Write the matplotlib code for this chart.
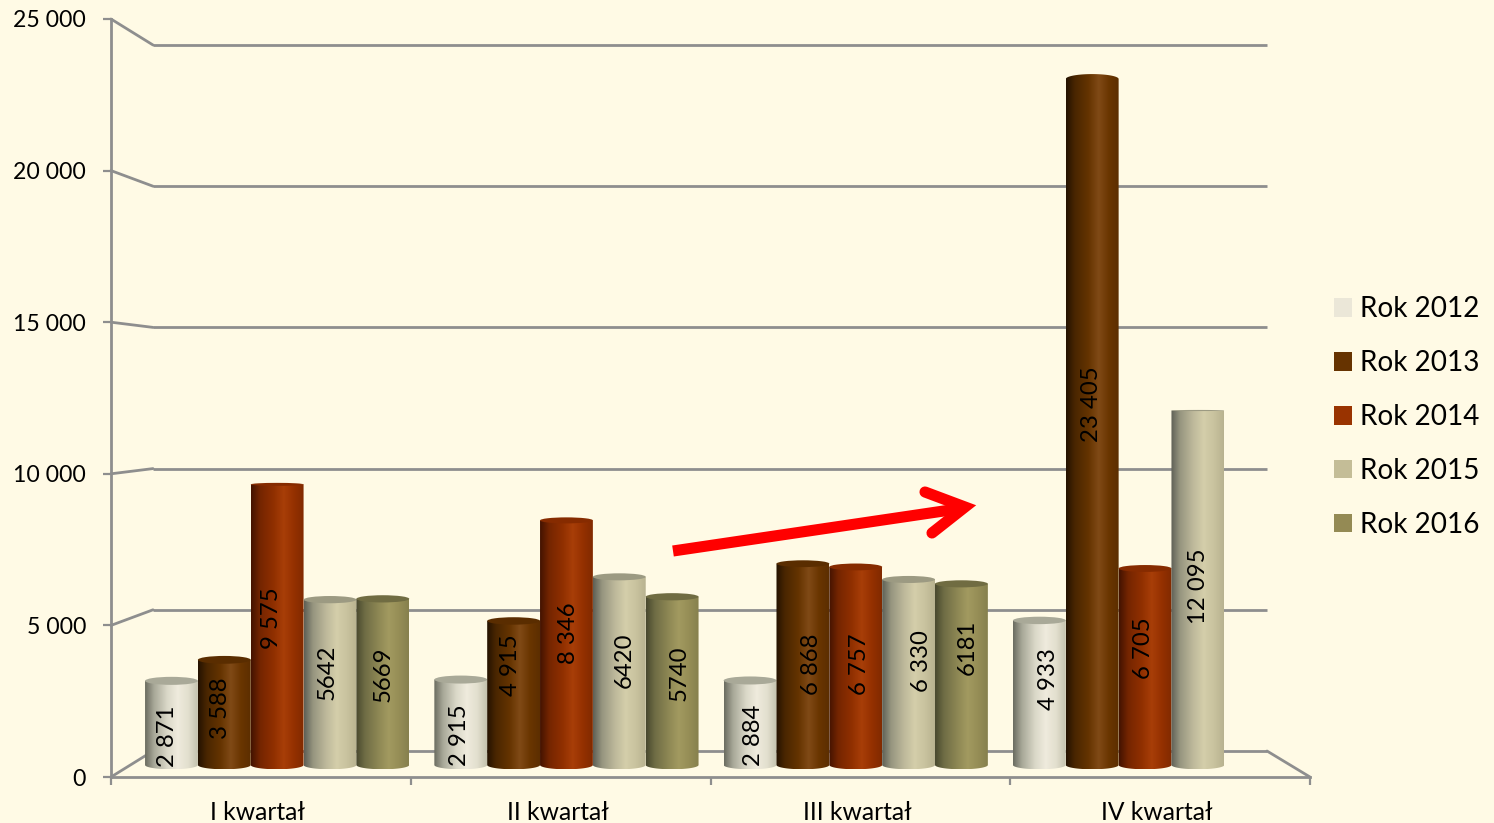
import numpy as np
import matplotlib
matplotlib.use("Agg")
import matplotlib.pyplot as plt
from matplotlib.colors import LinearSegmentedColormap
from matplotlib.lines import Line2D
from matplotlib.patches import Ellipse, Patch, PathPatch, ConnectionPatch
from matplotlib.path import Path

quarters = ["I kwartał", "II kwartał", "III kwartał", "IV kwartał"]
series_names = ["Rok 2012", "Rok 2013", "Rok 2014", "Rok 2015", "Rok 2016"]
rok_2012 = [2871, 2915, 2884, 4933]
rok_2013 = [3588, 4915, 6868, 23405]
rok_2014 = [9575, 8346, 6757, 6705]
rok_2015 = [5642, 6420, 6330, 12095]
rok_2016 = [5669, 5740, 6181, np.nan]
labels_2012 = ["2 871", "2 915", "2 884", "4 933"]
labels_2013 = ["3 588", "4 915", "6 868", "23 405"]
labels_2014 = ["9 575", "8 346", "6 757", "6 705"]
labels_2015 = ["5642", "6420", "6 330", "12 095"]
labels_2016 = ["5669", "5740", "6181", ""]
y_ticks = [0, 5000, 10000, 15000, 20000, 25000]
y_tick_labels = ["0", "5 000", "10 000", "15 000", "20 000", "25 000"]

values = [rok_2012, rok_2013, rok_2014, rok_2015, rok_2016]
texts = [labels_2012, labels_2013, labels_2014, labels_2015, labels_2016]

# label placement relative to each cylinder's centre (pixels)
label_dx = [[-4, -1, 3, 9], [-4, -3, 9, -1], [-6, 2, 4, -2], [-3, 5, 13, 1], [0, 7, 6, 0]]
label_dy = [[-13, -13, -13, 14], [4, 28, 0, 18], [6, 10, 2, 19], [10, 11, 11, 1], [8, 8, 27, 0]]

BG = "#FFFAE5"
GRID = "#8E8E8E"
W, H = 1494, 823
plt.rcParams["font.family"] = ["Lato", "DejaVu Sans"]
FS = 17.2

legend_colors = ["#EBE7D8", "#663300", "#993300", "#C4BD97", "#948A54"]
ramps = [
    ["#6A6B60", "#A8A898", "#DAD8C8", "#EFEBDD", "#E2DFCE", "#C4C2AE"],
    ["#241200", "#4A2600", "#643300", "#804A16", "#693500", "#5C2E00"],
    ["#431300", "#742500", "#8F2F00", "#A83E08", "#943000", "#812A00"],
    ["#5E5F56", "#96957F", "#BEB99B", "#D4CEAA", "#C8C29E", "#B8B290"],
    ["#48482E", "#6F6D45", "#8D8754", "#A29A60", "#958D56", "#86804D"],
]
top_colors = ["#A9A998", "#5A2D00", "#862B00", "#9C9A82", "#706C42"]
stops = [0, 0.17, 0.42, 0.62, 0.82, 1]


def box(left, top, right, bottom):
    return [left / W, 1 - bottom / H, (right - left) / W, (bottom - top) / H]


fig = plt.figure(figsize=(W / 100, H / 100), dpi=100, facecolor=BG)

# back wall
ax_back = fig.add_axes(box(153, 45, 1267, 751), facecolor="none", zorder=1)
ax_back.set_xlim(0, 1)
ax_back.set_ylim(0, 25000)
ax_back.set_yticks(y_ticks)
ax_back.tick_params(left=False, bottom=False, labelleft=False, labelbottom=False)
ax_back.grid(axis="y", color=GRID, lw=2.0)
ax_back.set_axisbelow(True)
for gl in ax_back.get_ygridlines():
    gl.set_clip_on(False)
    gl.set_solid_capstyle("butt")
for s in ax_back.spines.values():
    s.set_visible(False)

# front axis
ax = fig.add_axes(box(111, 19, 1310, 777), facecolor="none", zorder=2)
ax.set_xlim(0, 4)
ax.set_ylim(0, 25000)
ax.spines["top"].set_visible(False)
ax.spines["right"].set_visible(False)
for side in ("left", "bottom"):
    ax.spines[side].set_color(GRID)
    ax.spines[side].set_linewidth(2.0)
ax.set_yticks(y_ticks, y_tick_labels, fontsize=16.6, color="black")
ax.set_xticks(range(5), [""] * 5)
ax.set_xticks(np.arange(4) + 0.49, quarters, minor=True, fontsize=17.7, color="black")
ax.tick_params(axis="y", length=6, width=1.6, color=GRID, pad=12)
ax.tick_params(axis="x", which="major", length=6, width=1.6, color=GRID)
ax.tick_params(axis="x", which="minor", length=0, pad=17)

# side and floor connectors
for v in y_ticks:
    fig.add_artist(ConnectionPatch((0, v), (0, v), coordsA=ax.transData, coordsB=ax_back.transData,
                                   color=GRID, lw=2.0, zorder=1.5))
fig.add_artist(ConnectionPatch((4, 0), (1, 0), coordsA=ax.transData, coordsB=ax_back.transData,
                               color=GRID, lw=2.0, zorder=1.5))

# cylinders
PX_PER_UNIT = 0.02931
BASE = 765
HORIZON = 405
MARGIN = 8
top_px = BASE - 25000 * PX_PER_UNIT
ax_b = fig.add_axes(box(132.5, top_px, 1289.7, BASE + MARGIN), facecolor="none", zorder=3)
ax_b.set_xlim(-0.5, 3.5)
ax_b.set_ylim(-MARGIN / PX_PER_UNIT, 25000)
ax_b.axis("off")


def cap_height(y_px):
    """Half height (pixels) of a cylinder's ellipse, flatter near the eye level."""
    return np.interp(abs(y_px - HORIZON), [0, 80, 115, 170, 275, 330], [0.5, 1.5, 3, 3.5, 4, 5])


n = len(values)
bar_w = 1 / (n + 0.475)
base_h = 4.3 / PX_PER_UNIT
lower = np.linspace(np.pi, 2 * np.pi, 40)
upper = np.linspace(0, np.pi, 40)
for i, (vals, ramp) in enumerate(zip(values, ramps)):
    cmap = LinearSegmentedColormap.from_list(f"c{i}", list(zip(stops, ramp)))
    grad = np.linspace(0, 1, 256)[None, :]
    for q, v in enumerate(vals):
        if np.isnan(v):
            continue
        cx = q + (i - (n - 1) / 2) * bar_w
        r = bar_w / 2
        y_px = BASE - v * PX_PER_UNIT
        cap = cap_height(y_px) / PX_PER_UNIT
        above = y_px < HORIZON
        im = ax_b.imshow(grad, cmap=cmap, aspect="auto", interpolation="bilinear",
                         extent=(cx - r, cx + r, -base_h, v + cap), zorder=10 + i)
        verts = list(zip(cx + r * np.cos(lower), base_h * np.sin(lower)))
        if above:
            verts += list(zip(cx + r * np.cos(upper), v + cap * np.sin(upper)))
        else:
            verts += [(cx + r, v), (cx - r, v)]
        verts += [(cx - r, 0)]
        clip = PathPatch(Path(verts), transform=ax_b.transData, fc="none", ec="none")
        ax_b.add_patch(clip)
        im.set_clip_path(clip)
        if not above:
            ax_b.add_patch(Ellipse((cx, v), 2 * r, 2 * cap, fc=top_colors[i], ec="none",
                                   zorder=10 + i + 0.1))
        ax_b.annotate(texts[i][q], (cx, v / 2), xytext=(label_dx[i][q], label_dy[i][q]),
                      textcoords="offset pixels", rotation=90, ha="center", va="center",
                      fontsize=FS, color="black", zorder=30, annotation_clip=False)
ax_b.set_xlim(-0.5, 3.5)
ax_b.set_ylim(-MARGIN / PX_PER_UNIT, 25000)

# legend
handles = [Patch(fc=c, ec="none", label=s) for c, s in zip(legend_colors, series_names)]
fig.legend(handles=handles, loc="center left", bbox_to_anchor=(1334 / W, 1 - 417 / H), frameon=False,
           fontsize=20.1, handlelength=0.65, handleheight=0.65, handletextpad=0.27, labelspacing=1.0,
           borderpad=0, borderaxespad=0)


# red trend arrow
def px(points):
    p = np.array(points, float)
    return p[:, 0] / W, 1 - p[:, 1] / H


sx, sy = px([(673, 551), (964, 508)])
fig.add_artist(Line2D(sx, sy, color="#FF0000", lw=8, solid_capstyle="butt", zorder=20))
hx, hy = px([(925, 492), (965, 507), (932, 533)])
fig.add_artist(Line2D(hx, hy, color="#FF0000", lw=8, solid_capstyle="round", solid_joinstyle="miter", zorder=20))

fig.savefig("out.png", dpi=100, facecolor=BG)
